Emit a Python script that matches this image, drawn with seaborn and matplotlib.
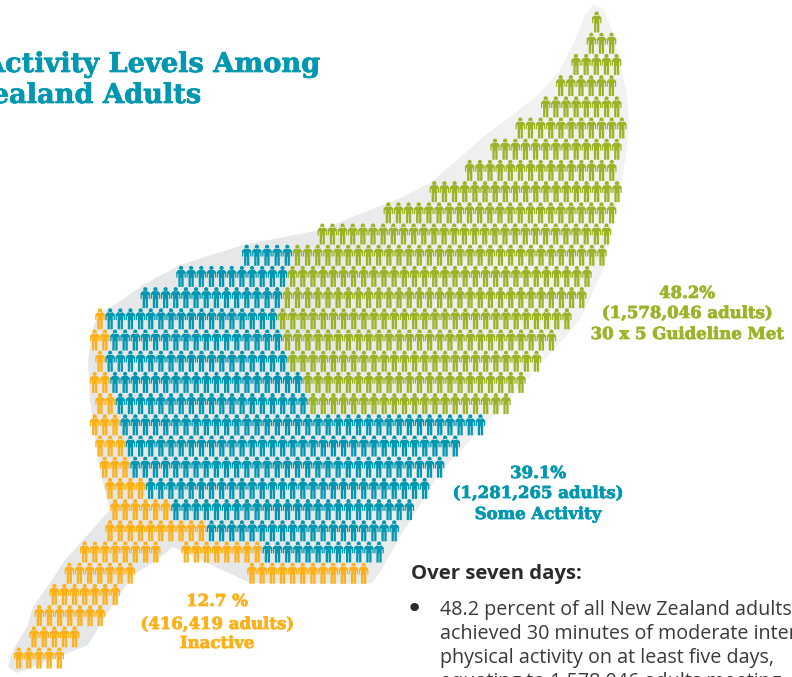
#!/usr/bin/env python3
# -*- coding: utf-8 -*-
"""Physical activity levels pictogram, people stacked in the shape of New Zealand"""

import numpy as np
import pandas as pd
import matplotlib
matplotlib.use('Agg')
import matplotlib.pyplot as plt
import matplotlib.patheffects as pe
from matplotlib.colors import LinearSegmentedColormap
from matplotlib.path import Path
from matplotlib.patches import Polygon
import seaborn as sns

# people per row, top row first
met_counts = [1, 3, 5, 6, 8, 11, 13, 15, 19, 23, 29, 31, 30, 30, 29, 27, 25, 22, 20,
              0, 0, 0, 0, 0, 0, 0, 0, 0, 0, 0, 0]
some_counts = [0, 0, 0, 0, 0, 0, 0, 0, 0, 0, 0, 5, 11, 14, 17, 17, 18, 19, 19,
               36, 33, 31, 28, 24, 19, 12, 0, 0, 0, 0, 0]
inactive_counts = [0, 0, 0, 0, 0, 0, 0, 0, 0, 0, 0, 0, 0, 0, 1, 2, 1, 2, 2,
                   3, 3, 3, 4, 6, 10, 8, 7, 7, 7, 5, 5]
inactive_south = [0, 0, 0, 0, 0, 0, 0, 0, 0, 0, 0, 0, 0, 0, 0, 0, 0, 0, 0,
                  0, 0, 0, 0, 0, 0, 8, 12, 0, 0, 0, 0]

# layout of the rows, left edge of each row in pixels and skipped places in the south group
row_start = [596.7, 591.3, 576, 560.7, 545.7, 520.3, 495, 469.7, 434.3, 388.3, 322.3,
             246.7, 181, 145.3, 100, 94.7, 100, 94.7, 100, 94.7, 100, 104.7, 110, 115,
             110, 84.7, 69.3, 54.3, 39.3, 34, 18.7]
row_skip = [0] * 25 + [2, 11] + [0] * 4

group_names = ['Inactive', 'Some Activity', 'Guideline Met']
colors = {'Inactive': '#FDB017', 'Some Activity': '#0097B0', 'Guideline Met': '#9BB427'}

# gray silhouette of the country, pixels
shape_x = [593, 603, 612, 620, 626, 629, 627, 620, 613, 603, 580, 533, 483, 440, 423, 400, 380, 372,
           362, 250, 173, 157, 133, 103, 88, 17, 8, 13, 27, 33, 50, 65, 83, 110, 100, 94, 90, 88, 93, 100,
           110, 143, 180, 243, 320, 370, 403, 430, 455, 483, 510, 537, 560, 575, 585]
shape_y = [5, 8, 30, 63, 90, 117, 150, 190, 223, 270, 320, 373, 427, 472, 500, 537, 572, 583,
           584, 583, 547, 560, 575, 620, 645, 673, 667, 650, 627, 607, 583, 560, 540, 510, 470, 430, 400, 360, 327, 312,
           308, 285, 265, 245, 230, 210, 197, 183, 162, 137, 117, 96, 70, 40, 15]

ROW_TOP = 22.0
ROW_STEP = 21.2
COL_STEP = 10.15


def person_marker():
    """Path of a standing figure, height -1..1"""
    body = [(-0.24, 0.62), (0.24, 0.62), (0.45, 0.42), (0.45, -0.12), (0.33, -0.12), (0.33, 0.25),
            (0.25, 0.25), (0.25, -1.0), (0.03, -1.0), (0.03, -0.15), (-0.03, -0.15), (-0.03, -1.0),
            (-0.25, -1.0), (-0.25, 0.25), (-0.33, 0.25), (-0.33, -0.12), (-0.45, -0.12), (-0.45, 0.42),
            (-0.24, 0.62)]
    body_path = Path(body, closed=True)
    head = Path.circle((0, 0.80), 0.20)
    return Path.make_compound_path(body_path, head)


def build_people():
    rows = []
    for r, start in enumerate(row_start):
        col = 0
        for i in range(inactive_counts[r]):
            rows.append({'x': start + col * COL_STEP, 'row': r, 'group': 'Inactive'})
            col += 1
        if inactive_south[r]:
            col += row_skip[r]
            for i in range(inactive_south[r]):
                rows.append({'x': start + col * COL_STEP, 'row': r, 'group': 'Inactive'})
                col += 1
        for i in range(some_counts[r]):
            rows.append({'x': start + col * COL_STEP, 'row': r, 'group': 'Some Activity'})
            col += 1
        for i in range(met_counts[r]):
            rows.append({'x': start + col * COL_STEP, 'row': r, 'group': 'Guideline Met'})
            col += 1
    df = pd.DataFrame(rows)
    df['y'] = ROW_TOP + df['row'] * ROW_STEP
    return df


def fig_text(fig, x, y, s, **kw):
    return fig.text(x / 792, 1 - y / 677, s, **kw)


def main():
    sns.set_theme(style='white')
    plt.rcParams['font.family'] = ['DejaVu Sans']

    fig = plt.figure(figsize=(7.92, 6.77), dpi=100)
    ax = fig.add_axes([0, 0, 1, 1])
    ax.axis('off')

    # silhouette, darker to the west and lighter towards the tip
    gray = LinearSegmentedColormap.from_list('gray_shape', ['#E6E7E8', '#E6E7E8', '#F1F2F2', '#F1F2F2'])
    grad = np.linspace(0, 1, 256).reshape(1, -1)
    im = ax.imshow(grad, cmap=gray, extent=(0, 792, 677, 0), aspect='auto', zorder=0)
    shape = Polygon(np.column_stack([shape_x, shape_y]), closed=True, transform=ax.transData,
                    fc='none', lw=0)
    ax.add_patch(shape)
    im.set_clip_path(shape)

    people = build_people()
    sns.scatterplot(data=people, x='x', y='y', hue='group', hue_order=group_names, palette=colors,
                    marker=person_marker(), s=229, linewidth=0, legend=False, ax=ax, zorder=2)
    ax.set_xlim(0, 792)
    ax.set_ylim(677, 0)

    slab = 'DejaVu Serif'
    stroke = lambda c: [pe.withStroke(linewidth=0.5, foreground=c)]
    fig_text(fig, 320, 72, 'Physical Activity Levels Among', family=slab, weight='bold', fontsize=19.6,
             color='#0097B0', ha='right', path_effects=stroke('#0097B0'))
    fig_text(fig, 201, 103, 'New Zealand Adults', family=slab, weight='bold', fontsize=19.6,
             color='#0097B0', ha='right', path_effects=stroke('#0097B0'))

    for y, s in zip([298, 318, 339], ['48.2%', '(1,578,046 adults)', '30 x 5 Guideline Met']):
        fig_text(fig, 687, y, s, family=slab, weight='bold', fontsize=11.9, color='#9BB427', ha='center',
                 path_effects=stroke('#9BB427'))
    for y, s in zip([478, 498, 519], ['39.1%', '(1,281,265 adults)', 'Some Activity']):
        fig_text(fig, 538, y, s, family=slab, weight='bold', fontsize=11.9, color='#0097B0', ha='center',
                 path_effects=stroke('#0097B0'))
    for y, s in zip([606, 629, 648], ['12.7 %', '(416,419 adults)', 'Inactive']):
        fig_text(fig, 217, y, s, family=slab, weight='bold', fontsize=11.9, color='#FDB017', ha='center',
                 path_effects=stroke('#FDB017'))

    fig_text(fig, 411, 579, 'Over seven days:', family='Open Sans', weight='bold', fontsize=14.7, color='#2B2B2B')
    fig_text(fig, 406, 617, '•', family='DejaVu Sans', fontsize=21, color='#2B2B2B')
    lines = ['48.2 percent of all New Zealand adults', 'achieved 30 minutes of moderate intensity',
             'physical activity on at least five days,', 'equating to 1,578,046 adults meeting']
    for y, s in zip([615, 639, 663, 687], lines):
        fig_text(fig, 440, y, s, family='Open Sans', fontsize=14.2, color='#3A3A3A')

    fig.savefig('out.png', dpi=100)


if __name__ == "__main__":
    main()
